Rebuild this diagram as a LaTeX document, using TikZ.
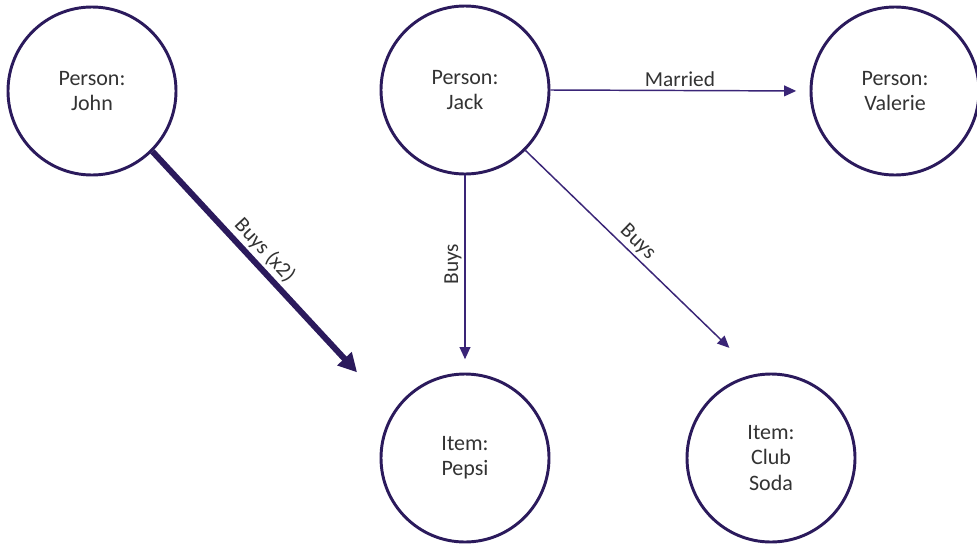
\documentclass[tikz,border=0pt]{standalone}
\usepackage{fontspec}
\setmainfont{Carlito}
\usetikzlibrary{arrows.meta}
\usetikzlibrary{calc}
\definecolor{navy}{HTML}{2B1A5C}
\definecolor{edgecol}{HTML}{3A2577}
\definecolor{textgrey}{HTML}{333333}
\tikzstyle{entity}=[circle,draw=navy,line width=2.2pt,minimum size=126pt,inner sep=0pt,align=center,text=textgrey,font=\fontsize{16.5}{19}\selectfont]
\tikzstyle{rel}=[draw=edgecol,line width=1.1pt,-{Triangle[length=9pt,width=8pt]},shorten >=10pt]
\tikzstyle{edgelabel} = [text=textgrey,font=\fontsize{16}{19}\selectfont,inner sep=2pt]

\begin{document}
\begin{tikzpicture}[x=0.75pt,y=-0.75pt]

   \useasboundingbox[fill=white] (0,0) rectangle (977,543);

    \foreach \pos/\name/\txt in {{(92,91)/john/{Person:\\John}}, {(465,90)/jack/{Person:\\Jack}}, {(895,91)/valerie/{Person:\\Valerie}}, {(465,458)/pepsi/{Item:\\Pepsi}}, {(771,458)/soda/{Item:\\Club\\Soda}}}
        \node[entity] (\name) at \pos {\txt};

   \draw[rel] (jack.east) -- node[edgelabel,above]{Married} (valerie.west);
   \draw[rel] (jack.south) -- node[edgelabel,rotate=90,anchor=south,pos=0.45]{Buys} (pepsi.north);
   \draw[rel,shorten >=28pt] (jack.-45) -- node[edgelabel,sloped,above,pos=0.45]{Buys} (soda.100);

\draw[draw=navy,line width=4.5pt,-{Triangle[length=14pt,width=14pt]},shorten >=40pt] (john.-45) -- node[edgelabel,sloped,above,pos=0.42]{Buys (x2)} (pepsi.147);

\end{tikzpicture}
\end{document}
